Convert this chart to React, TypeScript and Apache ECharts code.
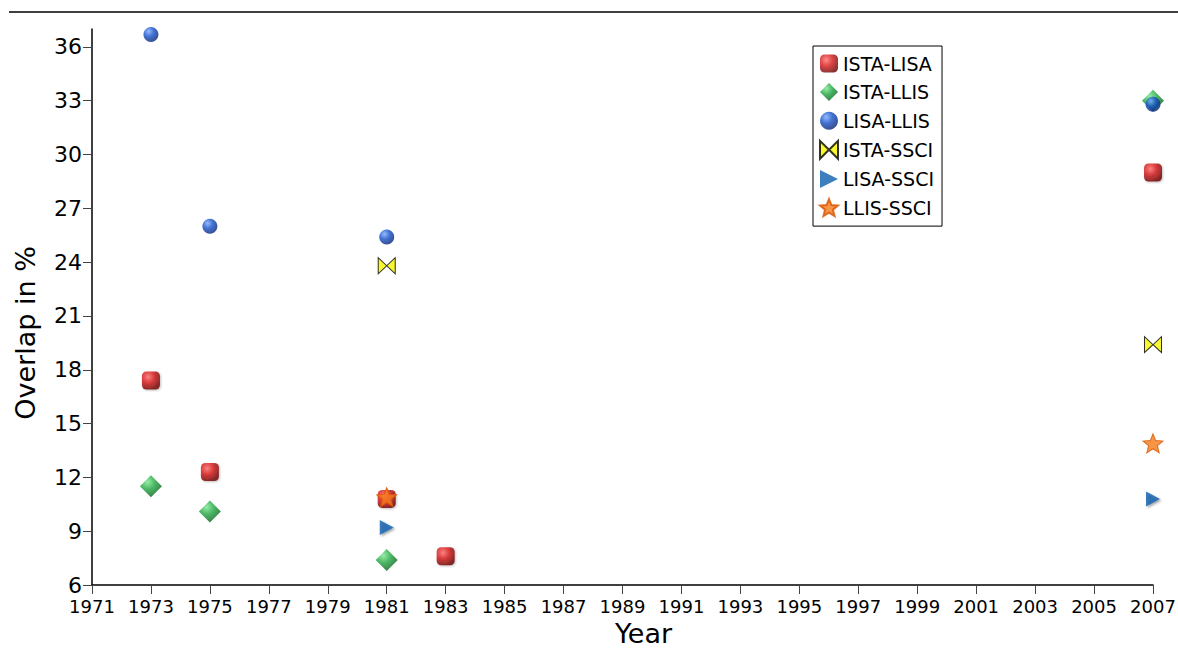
import React, { useEffect, useRef } from "react";
import * as echarts from "echarts";

const seriesNames = ["ISTA-LISA", "ISTA-LLIS", "LISA-LLIS", "ISTA-SSCI", "LISA-SSCI", "LLIS-SSCI"];

const istaLisa: [number, number][] = [[1973, 17.4], [1975, 12.3], [1981, 10.8], [1983, 7.6], [2007, 29.0]];
const istaLlis: [number, number][] = [[1973, 11.5], [1975, 10.1], [1981, 7.4], [2007, 33.0]];
const lisaLlis: [number, number][] = [[1973, 36.7], [1975, 26.0], [1981, 25.4], [2007, 32.8]];
const istaSsci: [number, number][] = [[1981, 23.8], [2007, 19.4]];
const lisaSsci: [number, number][] = [[1981, 9.2], [2007, 10.8]];
const llisSsci: [number, number][] = [[1981, 10.9], [2007, 13.9]];

const xTicks = [1971, 1973, 1975, 1977, 1979, 1981, 1983, 1985, 1987, 1989, 1991, 1993, 1995, 1997, 1999, 2001, 2003, 2005, 2007];
const yTicks = [6, 9, 12, 15, 18, 21, 24, 27, 30, 33, 36];

const FONT = "DejaVu Sans";

const radial = (c0: string, c1: string, c2: string) => ({
  type: "radial",
  x: 0.35,
  y: 0.3,
  r: 0.75,
  colorStops: [
    { offset: 0, color: c0 },
    { offset: 0.45, color: c1 },
    { offset: 1, color: c2 },
  ],
});

const BOWTIE = "path://M0,0 L0,20 L10,10 Z M20,0 L20,20 L10,10 Z";
const TRI = "path://M0,0 L20,10 L0,20 Z";
const STAR =
  "path://M50,0 L62.9,32.2 L97.6,34.5 L70.9,56.8 L79.4,90.5 L50,72 L20.6,90.5 L29.1,56.8 L2.4,34.5 L37.1,32.2 Z";

export default function App() {
  const ref = useRef<HTMLDivElement>(null);
  useEffect(() => {
    if (!ref.current) return;
    const chart = echarts.init(ref.current, null, { renderer: "svg" });
    const option: any = {
      animation: false,
      textStyle: { fontFamily: FONT },
      grid: { left: 92, right: 25, top: 29, bottom: 65, containLabel: false, outerBoundsMode: "none" },
      graphic: [
        {
          type: "line",
          shape: { x1: 9, y1: 12, x2: 1178, y2: 12 },
          style: { stroke: "#000", lineWidth: 1.5 },
        },
      ],
      legend: {
        orient: "vertical",
        left: 813,
        top: 46,
        padding: [8, 8, 9, 6],
        itemGap: 9.6,
        itemWidth: 18,
        itemHeight: 18,
        borderColor: "#000",
        borderWidth: 1,
        borderRadius: 0,
        backgroundColor: "#fff",
        textStyle: { fontFamily: FONT, fontSize: 19, color: "#000" },
        data: seriesNames,
      },
      xAxis: {
        type: "value",
        min: 1971,
        max: 2007,
        interval: 1,
        name: "Year",
        nameLocation: "middle",
        nameGap: 35,
        nameTextStyle: { fontFamily: FONT, fontSize: 27, color: "#000", padding: [0, 0, 0, 42] },
        axisLine: { lineStyle: { color: "#000", width: 1.5 } },
        axisTick: { customValues: xTicks, length: 9, lineStyle: { color: "#444" } },
        axisLabel: {
          customValues: xTicks,
          formatter: (v: number) => String(v),
          fontFamily: FONT,
          fontSize: 18,
          color: "#000",
          margin: 12,
        },
        splitLine: { show: false },
      },
      yAxis: {
        type: "value",
        min: 6,
        max: 37,
        interval: 3,
        name: "Overlap in %",
        nameLocation: "middle",
        nameGap: 53,
        nameTextStyle: { fontFamily: FONT, fontSize: 27, color: "#000", padding: [0, 52, 0, 0] },
        axisLine: { show: true, lineStyle: { color: "#000", width: 1.5 } },
        axisTick: { show: true, customValues: yTicks, length: 9, lineStyle: { color: "#444" } },
        axisLabel: {
          customValues: yTicks,
          formatter: (v: number) => String(v),
          fontFamily: FONT,
          fontSize: 22,
          color: "#000",
          margin: 10,
        },
        splitLine: { show: false },
      },
      series: [
        {
          name: seriesNames[0],
          type: "scatter",
          data: istaLisa,
          symbol: "roundRect",
          symbolSize: 18,
          itemStyle: {
            color: radial("#ff7070", "#d81818", "#6a0000"),
            shadowBlur: 2,
            shadowColor: "rgba(0,0,0,0.3)",
            shadowOffsetX: 1,
            shadowOffsetY: 1,
          },
        },
        {
          name: seriesNames[1],
          type: "scatter",
          data: istaLlis,
          symbol: "diamond",
          symbolSize: 22,
          itemStyle: {
            color: radial("#7ae890", "#1ea43c", "#065a18"),
          },
        },
        {
          name: seriesNames[2],
          type: "scatter",
          data: lisaLlis,
          symbol: "circle",
          symbolSize: 15,
          itemStyle: {
            color: radial("#7aaaff", "#1450c8", "#062070"),
          },
        },
        {
          name: seriesNames[3],
          type: "scatter",
          data: istaSsci,
          symbol: BOWTIE,
          symbolSize: [17, 16],
          itemStyle: { color: "#f5f500", borderColor: "#000", borderWidth: 1 },
        },
        {
          name: seriesNames[4],
          type: "scatter",
          data: lisaSsci,
          symbol: TRI,
          symbolSize: [14, 15],
          itemStyle: {
            color: "#0d5fae",
            shadowBlur: 2,
            shadowColor: "rgba(0,0,0,0.45)",
            shadowOffsetX: 1.5,
            shadowOffsetY: 1.5,
          },
        },
        {
          name: seriesNames[5],
          type: "scatter",
          data: llisSsci,
          symbol: STAR,
          symbolSize: [20, 19],
          itemStyle: { color: "#f57a18", borderColor: "#d85400", borderWidth: 1 },
        },
      ],
    };
    chart.setOption(option);
    return () => chart.dispose();
  }, []);
  return (
    <div
      ref={ref}
      style={{ position: "absolute", left: 0, top: 0, width: 1178, height: 650, background: "#fff" }}
    />
  );
}
